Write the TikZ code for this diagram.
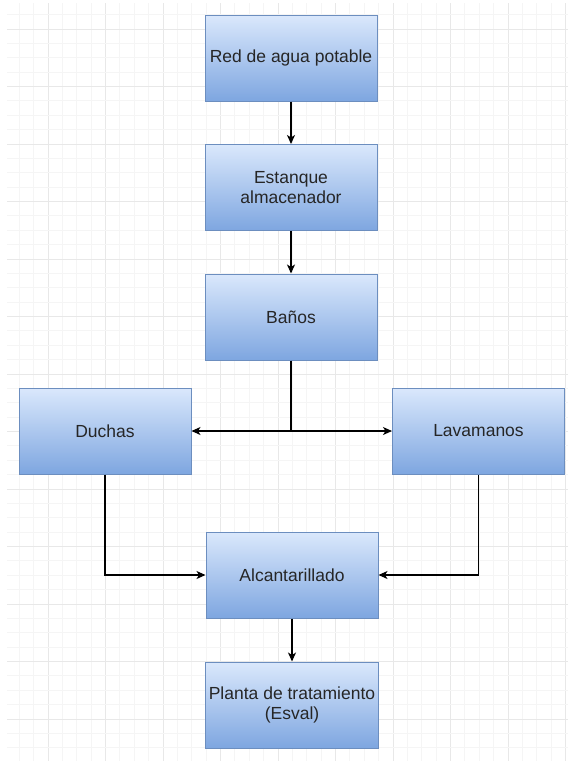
\documentclass[tikz,border=0pt]{standalone}
\usepackage{fontspec}
\setmainfont{Liberation Sans}
\usetikzlibrary{arrows.meta}

\definecolor{boxtop}{HTML}{DAE8FC}
\definecolor{boxbot}{HTML}{7EA6E0}
\definecolor{boxline}{HTML}{6C8EBF}
\definecolor{gridminor}{HTML}{F5F5F5}
\definecolor{gridmajor}{HTML}{E8E8E8}

\tikzset{
  block/.style={draw=boxline, line width=1pt, top color=boxtop, bottom color=boxbot,
    minimum width=172pt, minimum height=86pt, align=center,
    font=\fontsize{17.5}{20}\selectfont, text=black!85},
  flow/.style={line width=1.3pt, -{Stealth[length=9pt,width=8pt,inset=2.5pt]}}
}

\begin{document}
\begin{tikzpicture}[x=1pt, y=-1pt]
\useasboundingbox (0,0) rectangle (568,761);
\fill[white] (0,0) rectangle (568,761);
% background grid
\foreach \i in {-2,...,36} {
  \pgfmathsetmacro{\gx}{48+14.375*\i}
  \ifnum\numexpr\i-4*(\i/4)\relax=0
    \draw[gridmajor, line width=1pt] (\gx,3) -- (\gx,761);
  \else
    \draw[gridminor, line width=0.8pt] (\gx,3) -- (\gx,761);
  \fi
}
\foreach \j in {-1,...,50} {
  \pgfmathsetmacro{\gy}{29+14.375*\j}
  \ifnum\numexpr\j-4*(\j/4)\relax=0
    \draw[gridmajor, line width=1pt] (7,\gy) -- (568,\gy);
  \else
    \draw[gridminor, line width=0.8pt] (7,\gy) -- (568,\gy);
  \fi
}
% blocks
\node[block] (red) at (291,58) {Red de agua potable};
\node[block] (estanque) at (291,187.5) {Estanque\\almacenador};
\node[block] (banos) at (291,317) {Baños};
\node[block] (duchas) at (105,431) {Duchas};
\node[block] (lavamanos) at (478.5,431) {Lavamanos};
\node[block] (alcantarillado) at (292,575) {Alcantarillado};
\node[block] (planta) at (292,705) {Planta de tratamiento\\(Esval)};
\coordinate (split) at (banos.south |- duchas.east);
% connectors
\draw[flow] (red) -- (estanque);
\draw[flow] (estanque) -- (banos);
\draw[line width=1.3pt] (banos) -- (split);
\draw[flow] (split) -- (duchas);
\draw[flow] (split) -- (lavamanos);
\draw[flow] (duchas) |- (alcantarillado);
\draw[flow] (lavamanos) |- (alcantarillado);
\draw[flow] (alcantarillado) -- (planta);
\end{tikzpicture}
\end{document}
